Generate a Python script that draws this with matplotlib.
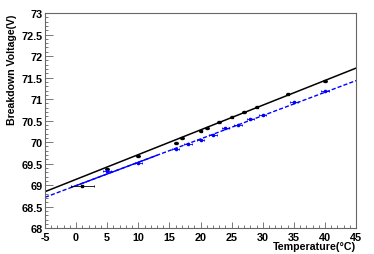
import numpy as np
import matplotlib
matplotlib.use('Agg')
import matplotlib.pyplot as plt
from matplotlib.ticker import MultipleLocator

plt.rcParams['font.family'] = ['Liberation Sans', 'DejaVu Sans']
plt.rcParams['axes.unicode_minus'] = False

# black measurement (upper series)
t_black = [1, 5, 10, 16, 17, 20, 21, 23, 25, 27, 29, 34, 40]
v_black = [68.98, 69.38, 69.67, 69.98, 70.09, 70.26, 70.34, 70.47, 70.58, 70.70, 70.81, 71.11, 71.41]
terr_black = [1.8, 0.3, 0.3, 0.3, 0.3, 0.3, 0.3, 0.3, 0.3, 0.3, 0.3, 0.3, 0.3]

# blue measurement (lower series)
t_blue = [5, 10, 16, 18, 20, 22, 24, 26, 28, 30, 35, 40]
v_blue = [69.33, 69.51, 69.83, 69.96, 70.06, 70.17, 70.33, 70.41, 70.54, 70.63, 70.93, 71.19]
terr_blue = [0.6] * len(t_blue)

# fit lines, values at the two ends of the axis
fit_t = [-5, 45]
fit_black = [68.85, 71.72]
fit_blue = [68.72, 71.43]
blue_solid_range = [-0.7, 13]

fig = plt.figure(figsize=(3.74, 2.55), dpi=100)
ax = fig.add_axes([0.1203, 0.1008, 0.8317, 0.8443])

ax.plot(fit_t, fit_black, color='black', lw=1.1)
ax.plot(fit_t, fit_blue, color='blue', lw=1.0, ls=(0, (3, 1.5)))
seg = np.interp(blue_solid_range, fit_t, fit_blue)
ax.plot(blue_solid_range, seg, color='blue', lw=1.0)

ax.errorbar(t_black, v_black, xerr=terr_black, fmt='s', color='black',
            ms=1.6, elinewidth=0.6, capsize=1.0, capthick=0.6)
ax.errorbar(t_blue, v_blue, xerr=terr_blue, fmt='o', color='blue',
            ms=1.6, elinewidth=0.6, capsize=1.0, capthick=0.6)

ax.set_xlim(-5, 45)
ax.set_ylim(68, 73)
ax.xaxis.set_major_locator(MultipleLocator(5))
ax.xaxis.set_minor_locator(MultipleLocator(1))
ax.yaxis.set_major_locator(MultipleLocator(0.5))
ax.yaxis.set_minor_locator(MultipleLocator(0.1))
ax.yaxis.set_major_formatter(plt.FuncFormatter(lambda v, p: '%g' % v))

ax.tick_params(which='both', direction='in', color='#777777', width=0.7,
               labelsize=7.8)
ax.tick_params(axis='x', pad=2.6)
ax.tick_params(axis='y', pad=1.8)
ax.tick_params(axis='x', which='major', length=4.5)
ax.tick_params(axis='y', which='major', length=6)
ax.tick_params(which='minor', length=2.3)
for lbl in ax.get_xticklabels() + ax.get_yticklabels():
    lbl.set_fontweight('bold')
for sp in ax.spines.values():
    sp.set_color('#666666')
    sp.set_linewidth(0.8)

ax.set_xlabel('Temperature(°C)', fontsize=7.7, fontweight='bold', loc='right')
ax.set_ylabel('Breakdown Voltage(V)', fontsize=7.6, fontweight='bold', loc='top')
ax.xaxis.set_label_coords(1.0, -0.06)
ax.yaxis.set_label_coords(-0.09, 0.997)

fig.savefig('out.png', dpi=100)
